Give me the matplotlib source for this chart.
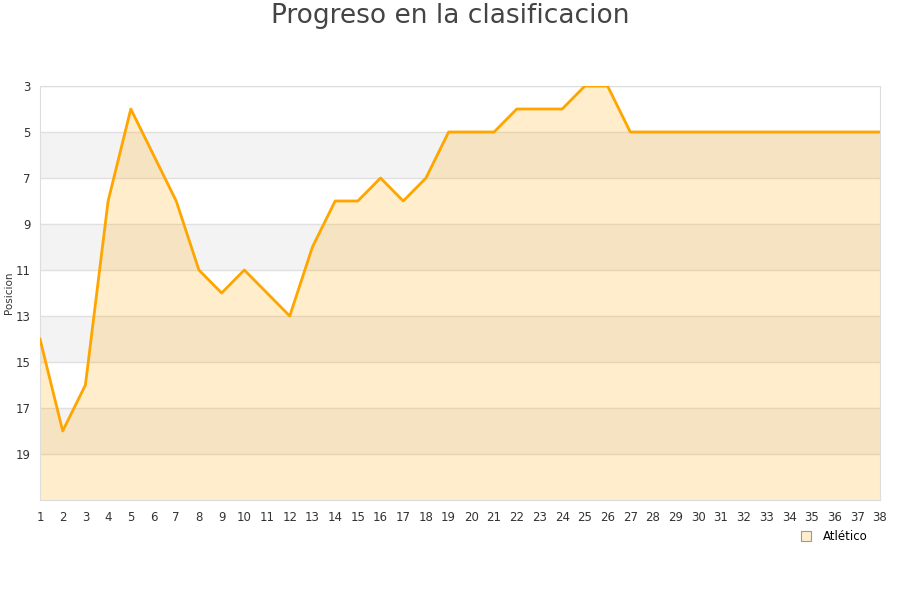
import numpy as np
import matplotlib.pyplot as plt
from matplotlib.lines import Line2D

jornadas = list(range(1, 39))
posicion = [14, 18, 16, 8, 4, 6, 8, 11, 12, 11, 12, 13, 10, 8, 8, 7, 8, 7, 5, 5,
            5, 4, 4, 4, 3, 3, 5, 5, 5, 5, 5, 5, 5, 5, 5, 5, 5, 5]
equipo = "Atlético"
titulo = "Progreso en la clasificacion"

fig = plt.figure(figsize=(9, 6), dpi=100)
ax = fig.add_axes([40 / 900, 1 - 500 / 600, 840 / 900, 414 / 600])

# bandas alternas
for y0 in [5, 9, 13, 17]:
    ax.axhspan(y0, y0 + 2, color="#f3f3f3", zorder=0, lw=0)
for y in range(3, 21, 2):
    ax.axhline(y, color="#e0e0e0", lw=1, zorder=1)

ax.fill_between(jornadas, posicion, 21, color="#ffa500", alpha=0.2, lw=0, zorder=2)
ax.plot(jornadas, posicion, color="#ffa500", lw=2, zorder=3)

ax.set_xlim(1, 38)
ax.set_ylim(21, 3)
ax.set_xticks(jornadas)
ax.set_yticks(range(3, 21, 2))
ax.tick_params(length=0, labelsize=8.5, colors="#333333", pad=8)
ax.tick_params(axis="y", pad=7)
for s in ax.spines.values():
    s.set_color("#dddddd")

fig.text(9 / 900, 1 - 293 / 600, "Posicion", rotation=90, ha="center", va="center",
         fontsize=7.5, color="#333333")
fig.text(0.5, 0.973, titulo, ha="center", va="center", fontsize=19, color="#444444")

handle = Line2D([], [], marker="s", ls="", markersize=7, markerfacecolor="#ffeecc",
                markeredgecolor="#999999", markeredgewidth=0.8)
fig.legend([handle], [equipo], loc="center", bbox_to_anchor=(0.923, 0.105),
           frameon=False, fontsize=8.5, handletextpad=0.4)

fig.savefig("out.png", dpi=100)
